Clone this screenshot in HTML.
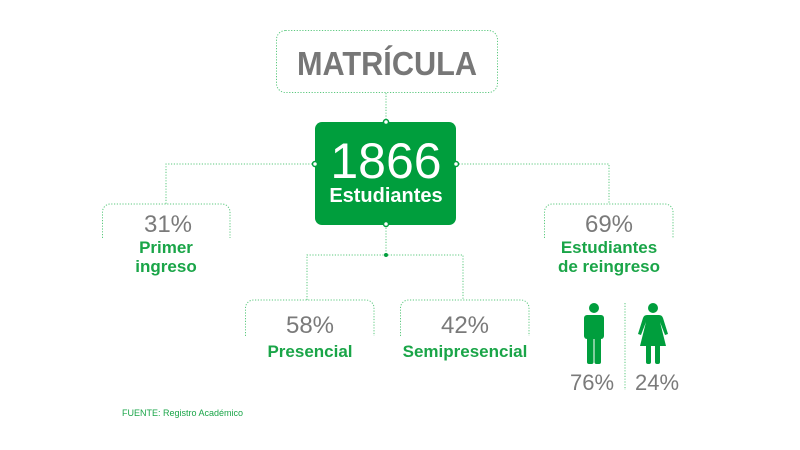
<!DOCTYPE html>
<html><head><meta charset="utf-8"><style>
html,body{margin:0;padding:0;background:#fff;width:800px;height:450px;overflow:hidden}
svg{display:block}
text{font-family:"Liberation Sans",sans-serif}
</style></head><body>
<svg width="800" height="450" viewBox="0 0 800 450" xmlns="http://www.w3.org/2000/svg">
<g fill="none" stroke="#5cc97f" stroke-width="1" stroke-dasharray="1.2 1.6">
<rect x="276.5" y="30.5" width="221" height="62" rx="9"/>
<line x1="386" y1="93" x2="386" y2="122"/>
<polyline points="315,164 166,164 166,204"/>
<polyline points="456,164 609,164 609,204"/>
<line x1="386" y1="225" x2="386" y2="255"/>
<polyline points="307,300 307,255 463,255 463,300"/>
<path d="M102.5 238 V212 a8 8 0 0 1 8 -8 H222 a8 8 0 0 1 8 8 V238"/>
<path d="M544.5 238 V212 a8 8 0 0 1 8 -8 H665 a8 8 0 0 1 8 8 V238"/>
<path d="M245.5 336 V308 a8 8 0 0 1 8 -8 H366 a8 8 0 0 1 8 8 V336"/>
<path d="M400.5 336 V308 a8 8 0 0 1 8 -8 H521 a8 8 0 0 1 8 8 V336"/>
<line x1="625" y1="303" x2="625" y2="390"/>
</g>
<rect x="315" y="122" width="141" height="103" rx="7" fill="#009e3d"/>
<g fill="#fff" stroke="#009e3d" stroke-width="1.5">
<circle cx="386" cy="122" r="2.5"/><circle cx="315" cy="164" r="2.5"/><circle cx="456" cy="164" r="2.5"/><circle cx="386" cy="224" r="2.5"/>
</g>
<circle cx="386" cy="255" r="2" fill="#009e3d"/>
<text x="297" y="75" font-size="33" font-weight="bold" fill="#777" textLength="180" lengthAdjust="spacingAndGlyphs">MATRÍCULA</text>
<text x="386" y="178" text-anchor="middle" font-size="50" fill="#fff">1866</text>
<text x="386" y="202" text-anchor="middle" font-size="20" font-weight="bold" fill="#fff">Estudiantes</text>
<g text-anchor="middle">
<text x="168" y="232" font-size="24" fill="#7a7a7a">31%</text>
<text x="166" y="253" font-size="17" font-weight="bold" fill="#1aa548">Primer</text>
<text x="166" y="272" font-size="17" font-weight="bold" fill="#1aa548">ingreso</text>
<text x="609" y="232" font-size="24" fill="#7a7a7a">69%</text>
<text x="609" y="253" font-size="17" font-weight="bold" fill="#1aa548">Estudiantes</text>
<text x="609" y="272" font-size="17" font-weight="bold" fill="#1aa548">de reingreso</text>
<text x="310" y="333" font-size="24" fill="#7a7a7a">58%</text>
<text x="310" y="357" font-size="17" font-weight="bold" fill="#1aa548">Presencial</text>
<text x="465" y="333" font-size="24" fill="#7a7a7a">42%</text>
<text x="465" y="357" font-size="17" font-weight="bold" fill="#1aa548">Semipresencial</text>
<text x="592" y="390" font-size="22" fill="#7a7a7a">76%</text>
<text x="657" y="390" font-size="22" fill="#7a7a7a">24%</text>
</g>
<g fill="#009e3d">
<circle cx="594" cy="308" r="5"/>
<rect x="584" y="315" width="20" height="24" rx="3"/>
<rect x="587" y="336" width="6.5" height="28" rx="2"/>
<rect x="594.5" y="336" width="6.5" height="28" rx="2"/>
<circle cx="653" cy="308" r="5"/>
<path d="M647 315 H659 Q662 315 663 318 L668 334 L665 335 L660 322 L666 346 H640 L646 322 L641 335 L638 334 L643 318 Q644 315 647 315 Z"/>
<rect x="646" y="344" width="5" height="20" rx="2"/>
<rect x="655" y="344" width="5" height="20" rx="2"/>
</g>
<text x="122" y="416" font-size="9" fill="#1aa548">FUENTE: Registro Académico</text>
</svg>
</body></html>
